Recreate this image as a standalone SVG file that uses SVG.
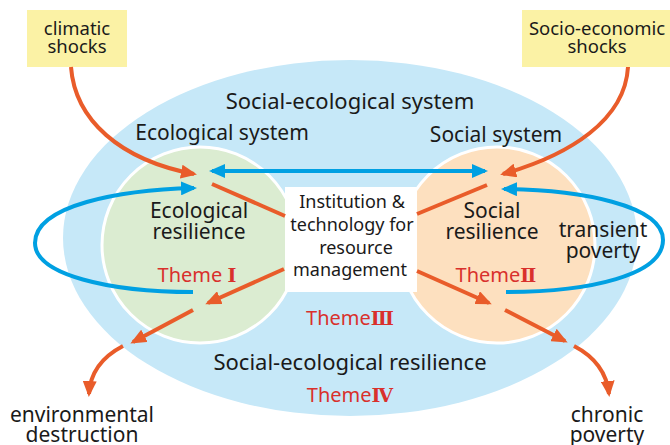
<svg xmlns="http://www.w3.org/2000/svg" width="670" height="445" viewBox="0 0 670 445">
<style>
text{font-family:"Noto Sans","Open Sans","DejaVu Sans",sans-serif;fill:#1a1a1a;text-anchor:middle}
.lg{font-size:22px}
.md{font-size:21px}
.bx{font-size:18px}
.sm{font-size:18.5px}
.th{font-size:20px;fill:#d9302c}
.rn{font-family:"DejaVu Serif","Liberation Serif","Noto Sans CJK JP",serif;font-weight:bold;fill:#d9302c;font-size:19px}
.or{fill:none;stroke:#e95c2a;stroke-width:4}
.bl{fill:none;stroke:#00a0e2;stroke-width:4}
</style>
<defs>
<marker id="ao" viewBox="0 0 16 14" refX="13" refY="7" markerWidth="16" markerHeight="14" markerUnits="userSpaceOnUse" orient="auto"><path d="M0,0 L16,7 L0,14 z" fill="#e95c2a"/></marker>
<marker id="ab" viewBox="0 0 16 14" refX="13" refY="7" markerWidth="16" markerHeight="14" markerUnits="userSpaceOnUse" orient="auto-start-reverse"><path d="M0,0 L16,7 L0,14 z" fill="#00a0e2"/></marker>
</defs>
<g id="social-ecological-system">
<ellipse cx="350" cy="238" rx="287" ry="178" fill="#c6e8f8"/>
</g>
<g id="ecological-system">
<circle cx="200" cy="245" r="98" fill="#dbecd1" stroke="#fff" stroke-width="3"/>
</g>
<g id="social-system">
<circle cx="497" cy="245" r="98" fill="#fde0bf" stroke="#fff" stroke-width="3"/>
</g>
<g id="institution">
<rect x="285" y="187" width="132" height="105" fill="#fff"/>
<text class="bx" x="352" y="208">Institution &amp;</text>
<text class="bx" x="352" y="231">technology for</text>
<text class="bx" x="356" y="254">resource</text>
<text class="bx" x="350" y="276">management</text>
</g>
<g id="climatic-shocks">
<rect x="27" y="10" width="100" height="57" fill="#fbf2a5"/>
<text class="sm" x="77" y="35">climatic</text>
<text class="sm" x="77" y="53">shocks</text>
</g>
<g id="socio-economic-shocks">
<rect x="522" y="10" width="148" height="57" fill="#fbf2a5"/>
<text class="sm" x="597" y="35">Socio-economic</text>
<text class="sm" x="597" y="53">shocks</text>
</g>
<g id="connectors">
<path class="or" d="M71,67 C75,120 120,160 194,174" marker-end="url(#ao)"/>
<path class="or" d="M628,67 C625,120 570,155 503,174" marker-end="url(#ao)"/>
<path class="or" d="M212,184 L285,216"/>
<path class="or" d="M487,185 L417,214"/>
<path class="or" d="M284,269 L208,303" marker-end="url(#ao)"/>
<path class="or" d="M193,310 L133,342" marker-end="url(#ao)"/>
<path class="or" d="M123,346 C100,358 90,375 89,394" marker-end="url(#ao)"/>
<path class="or" d="M417,271 L489,303" marker-end="url(#ao)"/>
<path class="or" d="M505,310 L565,341" marker-end="url(#ao)"/>
<path class="or" d="M574,346 C597,358 607,375 609,394" marker-end="url(#ao)"/>
<path class="bl" d="M212,171 L485,171" marker-start="url(#ab)" marker-end="url(#ab)"/>
<path class="bl" d="M193,292 C110,292 35,275 35,243 C35,205 120,190 194,188" marker-end="url(#ab)"/>
<path class="bl" d="M506,292 C590,292 663,275 663,240 C663,205 580,190 504,189" marker-end="url(#ab)"/>
</g>
<g id="labels">
<text class="lg" x="350" y="109">Social-ecological system</text>
<text class="md" x="222" y="140">Ecological system</text>
<text class="md" x="496" y="142">Social system</text>
<text class="md" x="199" y="218">Ecological</text>
<text class="md" x="199" y="239">resilience</text>
<text class="md" x="492" y="218">Social</text>
<text class="md" x="492" y="239">resilience</text>
<text class="md" x="603" y="237">transient</text>
<text class="md" x="603" y="258">poverty</text>
<text class="th" x="197" y="282">Theme <tspan class="rn">Ⅰ</tspan></text>
<text class="th" x="496" y="282">Theme<tspan class="rn">Ⅱ</tspan></text>
<text class="th" x="350" y="325">Theme<tspan class="rn">Ⅲ</tspan></text>
<text class="lg" x="350" y="370">Social-ecological resilience</text>
<text class="th" x="350" y="402">Theme<tspan class="rn">Ⅳ</tspan></text>
<text class="md" x="82" y="422">environmental</text>
<text class="md" x="82" y="442">destruction</text>
<text class="md" x="607" y="422">chronic</text>
<text class="md" x="607" y="442">poverty</text>
</g>
</svg>
